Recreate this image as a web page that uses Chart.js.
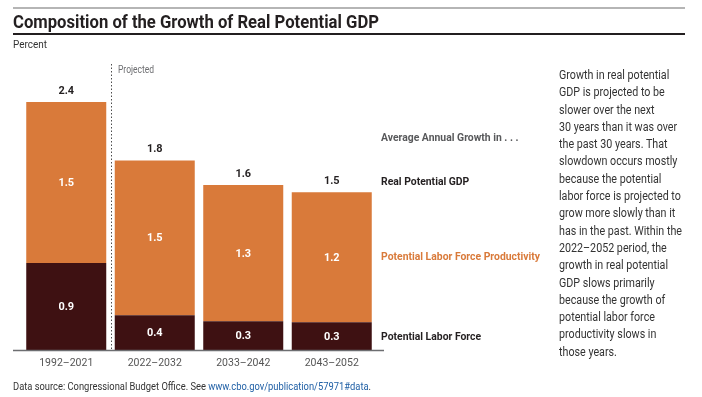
<!DOCTYPE html>
<html><head><meta charset="utf-8">
<script src="https://cdn.jsdelivr.net/npm/chart.js@4/dist/chart.umd.min.js"></script>
<style>
html,body{margin:0;padding:0;background:#fff;}
body{width:702px;height:397px;position:relative;overflow:hidden;font-family:Roboto,"Liberation Sans",sans-serif;}
.t{position:absolute;white-space:nowrap;transform-origin:0 50%;}
#topbar{position:absolute;left:13px;top:7px;width:672px;height:2px;background:#b5b5b5;}
#rule{position:absolute;left:13px;top:33px;width:672px;height:1.5px;background:#231f20;}
#title{left:13px;top:11px;font-weight:700;font-size:18.5px;color:#231f20;line-height:22px;}
#unit{left:13px;top:37.5px;font-size:11px;color:#333;line-height:14px;}
#note{position:absolute;left:559px;top:66px;font-size:12.5px;line-height:17.3px;color:#333;transform-origin:0 0;white-space:nowrap;}
#note span{display:inline-block;}
#src{left:13px;top:380px;font-size:11px;color:#333;line-height:14px;}
#src .lnk{color:#1f5fa5;}
canvas{position:absolute;left:0;top:0;}
</style></head>
<body>
<canvas id="c" width="702" height="397"></canvas>
<div id="topbar"></div>
<div class="t" id="title" data-w="366">Composition of the Growth of Real Potential GDP</div>
<div id="rule"></div>
<div class="t" id="unit" data-w="34">Percent</div>
<div id="note">
<div><span>Growth in real potential</span></div>
<div><span>GDP is projected to be</span></div>
<div><span>slower over the next</span></div>
<div><span>30 years than it was over</span></div>
<div><span>the past 30 years. That</span></div>
<div><span>slowdown occurs mostly</span></div>
<div><span>because the potential</span></div>
<div><span>labor force is projected to</span></div>
<div><span>grow more slowly than it</span></div>
<div><span>has in the past. Within the</span></div>
<div><span>2022–2052 period, the</span></div>
<div><span>growth in real potential</span></div>
<div><span>GDP slows primarily</span></div>
<div><span>because the growth of</span></div>
<div><span>potential labor force</span></div>
<div><span>productivity slows in</span></div>
<div><span>those years.</span></div>
</div>
<div class="t" id="src" data-w="358">Data source: Congressional Budget Office. See <span class="lnk">www.cbo.gov/publication/57971#data</span>.</div>
<script>
// ---- data ----
const categories = ['1992–2021', '2022–2032', '2033–2042', '2043–2052'];
const laborForce = [0.85, 0.34, 0.28, 0.27];
const laborProductivity = [1.57, 1.51, 1.33, 1.27];
const laborForceLabels = ['0.9', '0.4', '0.3', '0.3'];
const productivityLabels = ['1.5', '1.5', '1.3', '1.2'];
const totalLabels = ['2.4', '1.8', '1.6', '1.5'];
const seriesNames = ['Potential Labor Force', 'Potential Labor Force Productivity'];
const legendHeading = 'Average Annual Growth in . . .';
const totalName = 'Real Potential GDP';
const projectedText = 'Projected';

const ORANGE = '#d97a3a';
const DARK = '#3e1112';

// condense HTML text to widths
document.querySelectorAll('[data-w]').forEach(el => {
  const w = el.getBoundingClientRect().width;
  el.style.transform = 'scaleX(' + (parseFloat(el.dataset.w) / w) + ')';
});
(function(){
  const note = document.getElementById('note');
  let mx = 0;
  note.querySelectorAll('span').forEach(s => { mx = Math.max(mx, s.getBoundingClientRect().width); });
  note.style.transform = 'scaleX(' + (123 / mx) + ')';
})();

function ctext(ctx, str, x, y, sx, align) {
  ctx.save();
  ctx.translate(x, y);
  ctx.scale(sx, 1);
  ctx.textAlign = align;
  ctx.fillText(str, 0, 0);
  ctx.restore();
}

const labelPlugin = {
  id: 'cboLabels',
  afterDatasetsDraw(chart) {
    const ctx = chart.ctx, area = chart.chartArea;
    const xs = chart.scales.x, ys = chart.scales.y;
    const y0 = ys.getPixelForValue(0);
    ctx.save();
    // baseline
    ctx.strokeStyle = '#6d6e71'; ctx.lineWidth = 1.5;
    ctx.beginPath(); ctx.moveTo(area.left - 9, y0 + 0.5); ctx.lineTo(area.right + 8, y0 + 0.5); ctx.stroke();
    // projected divider
    const xd = Math.round((xs.getPixelForValue(0) + xs.getPixelForValue(1)) / 2) + 0.5;
    ctx.setLineDash([1.5, 2]); ctx.lineWidth = 1; ctx.strokeStyle = '#4d4d4d';
    ctx.beginPath(); ctx.moveTo(xd, 64); ctx.lineTo(xd, y0); ctx.stroke();
    ctx.setLineDash([]);
    ctx.fillStyle = '#6d6e71'; ctx.font = '10px Roboto'; ctx.textBaseline = 'middle';
    ctext(ctx, projectedText, xd + 6.5, 70.5, 0.85, 'left');

    // segment labels
    const segLabels = [laborForceLabels, productivityLabels];
    ctx.fillStyle = '#ffffff'; ctx.font = 'bold 11.5px Roboto';
    chart.data.datasets.forEach((ds, i) => {
      chart.getDatasetMeta(i).data.forEach((el, j) => {
        const p = el.getProps(['x', 'y', 'base'], true);
        ctext(ctx, segLabels[i][j], p.x, (p.y + p.base) / 2 + 0.5, 0.95, 'center');
      });
    });
    // totals
    ctx.fillStyle = '#231f20'; ctx.font = 'bold 11.5px Roboto';
    const top = chart.getDatasetMeta(1).data;
    top.forEach((el, j) => {
      const p = el.getProps(['x', 'y'], true);
      ctext(ctx, totalLabels[j], p.x, p.y - 11, 0.95, 'center');
    });
    // series labels at right, aligned with last bar
    const last = top.length - 1;
    const pt = top[last].getProps(['y', 'base'], true);
    const pl = chart.getDatasetMeta(0).data[last].getProps(['y', 'base'], true);
    const lx = area.right + 5;
    ctx.font = 'bold 11.5px Roboto';
    const sx = 159 / ctx.measureText(seriesNames[1]).width;
    ctx.fillStyle = '#58595b';
    ctext(ctx, legendHeading, lx, pt.y - 11 - 43, sx, 'left');
    ctx.fillStyle = '#231f20';
    ctext(ctx, totalName, lx, pt.y - 10, sx, 'left');
    ctx.fillStyle = ORANGE;
    ctext(ctx, seriesNames[1], lx, (pt.y + pt.base) / 2, sx, 'left');
    ctx.fillStyle = '#231f20';
    ctext(ctx, seriesNames[0], lx, (pl.y + pl.base) / 2 + 1, sx, 'left');
    ctx.restore();
  }
};

new Chart(document.getElementById('c'), {
  type: 'bar',
  data: {
    labels: categories,
    datasets: [
      { label: seriesNames[0], data: laborForce, backgroundColor: DARK, borderWidth: 0 },
      { label: seriesNames[1], data: laborProductivity, backgroundColor: ORANGE, borderWidth: 0 }
    ]
  },
  options: {
    responsive: false,
    animation: false,
    events: [],
    layout: { padding: { left: 22, right: 326, top: 42.5, bottom: 0 } },
    datasets: { bar: { barPercentage: 0.904, categoryPercentage: 1 } },
    plugins: { legend: { display: false }, tooltip: { enabled: false } },
    scales: {
      x: {
        stacked: true,
        grid: { display: false, drawTicks: false },
        border: { display: false },
        ticks: { color: '#555555', font: { family: 'Roboto', size: 10.5 }, padding: 7 },
        afterFit(scale) { scale.height = 47; }
      },
      y: { stacked: true, display: false, min: 0, max: 3 }
    }
  },
  plugins: [labelPlugin]
});
</script>
</body></html>
